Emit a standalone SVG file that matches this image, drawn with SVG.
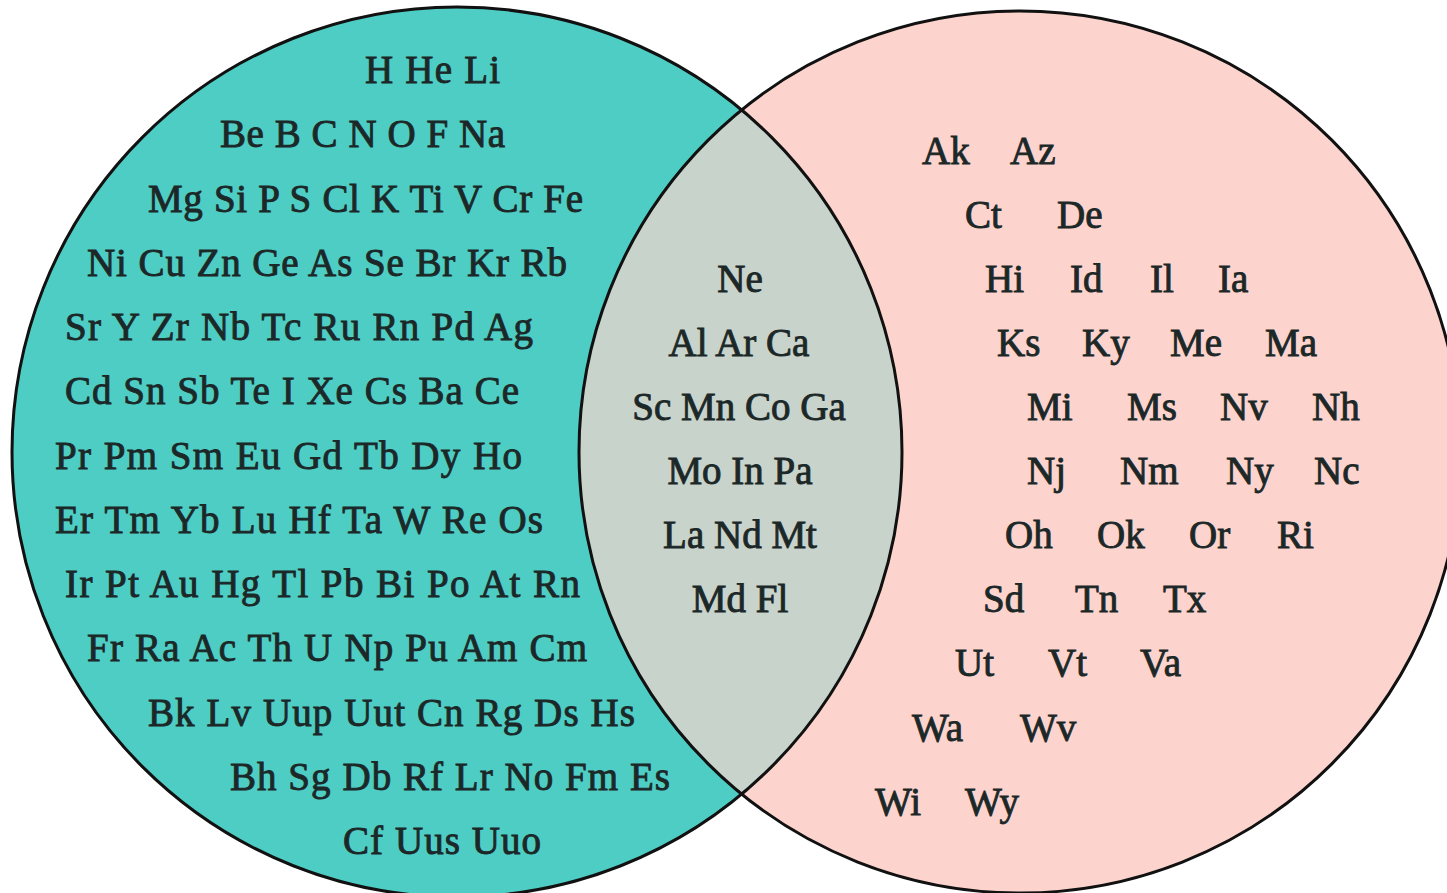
<svg xmlns="http://www.w3.org/2000/svg" width="1447" height="893" viewBox="0 0 1447 893">
<style>
.t{font-family:"Liberation Serif","Times New Roman",serif;font-weight:normal;font-size:39px;fill:#1c2828;stroke:#1c2828;stroke-width:0.9}
.c{text-anchor:middle}
.ring{fill:none;stroke:#111;stroke-width:3}
</style>
<rect width="1447" height="893" fill="#ffffff"/>
<g id="set-left">
<circle cx="457" cy="452" r="445" fill="#4ecdc4"/>
</g>
<g id="set-right">
<circle cx="1020" cy="452" r="441" fill="#fcd4cd"/>
</g>
<g id="set-both">
<path d="M741.6,110 A441,441 0 0 0 741.6,794 A445,445 0 0 0 741.6,110 Z" fill="#c8d3cb"/>
</g>
<g id="outlines">
<circle class="ring" cx="457" cy="452" r="445"/>
<circle class="ring" cx="1020" cy="452" r="441"/>
</g>
<g id="left-labels" class="t">
<text x="365" y="83" textLength="135" lengthAdjust="spacing">H He Li</text>
<text x="220" y="147" textLength="285" lengthAdjust="spacing">Be B C N O F Na</text>
<text x="148" y="212" textLength="435" lengthAdjust="spacing">Mg Si P S Cl K Ti V Cr Fe</text>
<text x="87" y="276" textLength="480" lengthAdjust="spacing">Ni Cu Zn Ge As Se Br Kr Rb</text>
<text x="65" y="340" textLength="468" lengthAdjust="spacing">Sr Y Zr Nb Tc Ru Rn Pd Ag</text>
<text x="65" y="404" textLength="454" lengthAdjust="spacing">Cd Sn Sb Te I Xe Cs Ba Ce</text>
<text x="55" y="469" textLength="467" lengthAdjust="spacing">Pr Pm Sm Eu Gd Tb Dy Ho</text>
<text x="55" y="533" textLength="488" lengthAdjust="spacing">Er Tm Yb Lu Hf Ta W Re Os</text>
<text x="65" y="597" textLength="515" lengthAdjust="spacing">Ir Pt Au Hg Tl Pb Bi Po At Rn</text>
<text x="87" y="661" textLength="500" lengthAdjust="spacing">Fr Ra Ac Th U Np Pu Am Cm</text>
<text x="148" y="726" textLength="487" lengthAdjust="spacing">Bk Lv Uup Uut Cn Rg Ds Hs</text>
<text x="230" y="790" textLength="440" lengthAdjust="spacing">Bh Sg Db Rf Lr No Fm Es</text>
<text x="343" y="854" textLength="198" lengthAdjust="spacing">Cf Uus Uuo</text>
</g>
<g id="both-labels" class="t c">
<text x="740" y="292">Ne</text>
<text x="739" y="356">Al Ar Ca</text>
<text x="739" y="420">Sc Mn Co Ga</text>
<text x="740" y="484">Mo In Pa</text>
<text x="740" y="548">La Nd Mt</text>
<text x="740" y="612">Md Fl</text>
</g>
<g id="right-labels" class="t">
<text x="922" y="164">Ak</text><text x="1010" y="164">Az</text>
<text x="965" y="228">Ct</text><text x="1057" y="228">De</text>
<text x="985" y="292">Hi</text><text x="1070" y="292">Id</text><text x="1150" y="292">Il</text><text x="1218" y="292">Ia</text>
<text x="997" y="356">Ks</text><text x="1082" y="356">Ky</text><text x="1170" y="356">Me</text><text x="1265" y="356">Ma</text>
<text x="1027" y="420">Mi</text><text x="1127" y="420">Ms</text><text x="1220" y="420">Nv</text><text x="1312" y="420">Nh</text>
<text x="1027" y="484">Nj</text><text x="1120" y="484">Nm</text><text x="1226" y="484">Ny</text><text x="1314" y="484">Nc</text>
<text x="1005" y="548">Oh</text><text x="1097" y="548">Ok</text><text x="1189" y="548">Or</text><text x="1277" y="548">Ri</text>
<text x="983" y="612">Sd</text><text x="1075" y="612">Tn</text><text x="1163" y="612">Tx</text>
<text x="955" y="676">Ut</text><text x="1048" y="676">Vt</text><text x="1140" y="676">Va</text>
<text x="912" y="741">Wa</text><text x="1020" y="741">Wv</text>
<text x="875" y="815">Wi</text><text x="965" y="815">Wy</text>
</g>
</svg>
